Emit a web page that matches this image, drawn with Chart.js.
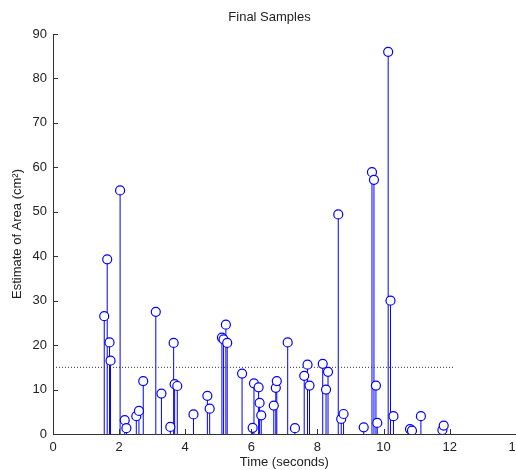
<!DOCTYPE html>
<html>
<head>
<meta charset="utf-8">
<script src="https://cdn.jsdelivr.net/npm/chart.js@4.4.0/dist/chart.umd.min.js"></script>
<style>
  html, body { margin: 0; padding: 0; background: #fff; overflow: hidden; }
</style>
</head>
<body>
<canvas id="stemChart" width="529" height="470"></canvas>
<script>
// sample times (s) and area estimates (cm^2)
const times = [1.55, 1.64, 1.71, 1.74, 2.03, 2.17, 2.22, 2.52, 2.60, 2.73,
               3.11, 3.28, 3.55, 3.65, 3.68, 3.76, 4.25, 4.67, 4.74, 5.11,
               5.16, 5.23, 5.27, 5.72, 6.04, 6.08, 6.22, 6.25, 6.30, 6.68,
               6.74, 6.77, 7.10, 7.32, 7.60, 7.70, 7.76, 8.16, 8.26, 8.32,
               8.63, 8.72, 8.79, 9.40, 9.65, 9.71, 9.77, 9.81, 10.14, 10.21,
               10.30, 10.80, 10.86, 11.13, 11.78, 11.82];
const areas = [26.5, 39.3, 20.6, 16.5, 54.8, 3.1, 1.3, 4.0, 5.2, 11.9,
               27.5, 9.1, 1.6, 20.5, 11.2, 10.8, 4.4, 8.6, 5.7, 21.7,
               21.3, 24.6, 20.5, 13.6, 1.4, 11.4, 10.5, 7.0, 4.2, 6.4,
               10.4, 11.9, 20.6, 1.3, 13.1, 15.6, 10.9, 15.8, 10.0, 14.0,
               49.4, 3.4, 4.5, 1.5, 58.9, 57.2, 10.9, 2.5, 86.0, 30.0,
               4.0, 1.1, 0.75, 4.0, 0.9, 1.9];
// dotted threshold line
const thresholdX = [0, 12.12];
const thresholdY = 15;

const xTicks = [0, 2, 4, 6, 8, 10, 12, 14];
const yTicks = [0, 10, 20, 30, 40, 50, 60, 70, 80, 90];

const points = times.map((t, i) => ({ x: t, y: areas[i] }));

// stems from each sample down to zero
const stemPlugin = {
  id: 'stems',
  beforeDatasetsDraw(chart) {
    const ctx = chart.ctx;
    const xs = chart.scales.x, ys = chart.scales.y;
    ctx.save();
    ctx.strokeStyle = '#0000ff';
    ctx.lineWidth = 1;
    points.forEach(p => {
      const px = xs.getPixelForValue(p.x);
      ctx.beginPath();
      ctx.moveTo(px, ys.getPixelForValue(0));
      ctx.lineTo(px, ys.getPixelForValue(p.y));
      ctx.stroke();
    });
    ctx.restore();
  }
};

// matlab style inward tick marks
const innerTicks = {
  id: 'innerTicks',
  afterDraw(chart) {
    const ctx = chart.ctx;
    const a = chart.chartArea;
    const xs = chart.scales.x, ys = chart.scales.y;
    ctx.save();
    ctx.strokeStyle = '#333';
    ctx.lineWidth = 1;
    xTicks.forEach(v => {
      const px = Math.round(xs.getPixelForValue(v)) + 0.5;
      ctx.beginPath();
      ctx.moveTo(px, a.bottom);
      ctx.lineTo(px, a.bottom - 5);
      ctx.stroke();
    });
    yTicks.forEach(v => {
      const py = Math.round(ys.getPixelForValue(v)) + 0.5;
      ctx.beginPath();
      ctx.moveTo(a.left, py);
      ctx.lineTo(a.left + 5, py);
      ctx.stroke();
    });
    ctx.restore();
  }
};

const font = { family: "'Liberation Sans', Arial, sans-serif", size: 13 };

new Chart(document.getElementById('stemChart'), {
  type: 'scatter',
  data: {
    datasets: [{
      data: points,
      pointStyle: 'circle',
      pointRadius: 4.5,
      pointBorderWidth: 1.2,
      pointBorderColor: '#0000ff',
      pointBackgroundColor: '#ffffff',
      showLine: false
    }, {
      type: 'line',
      data: thresholdX.map(x => ({ x: x, y: thresholdY })),
      borderColor: '#333',
      borderWidth: 1,
      borderDash: [1, 2],
      pointRadius: 0,
      fill: false
    }]
  },
  options: {
    responsive: false,
    animation: false,
    layout: { padding: { left: 10, top: 0, right: 0, bottom: 0 } },
    plugins: {
      legend: { display: false },
      tooltip: { enabled: false },
      title: {
        display: true,
        text: 'Final Samples',
        color: '#222',
        font: { family: font.family, size: 13, weight: 'normal' },
        padding: { top: 10, bottom: 8.4 }
      }
    },
    scales: {
      x: {
        type: 'linear',
        min: 0, max: 14,
        afterFit(s) { s.height = 36; },
        afterBuildTicks(s) { s.ticks = xTicks.map(v => ({ value: v })); },
        grid: { display: true, drawOnChartArea: false, drawTicks: false },
        border: { display: true, color: '#333', width: 1 },
        ticks: { color: '#222', font: font, padding: 6, maxRotation: 0 },
        title: { display: true, text: 'Time (seconds)', color: '#222', font: font, padding: 0 }
      },
      y: {
        type: 'linear',
        min: 0, max: 90,
        afterFit(s) { s.width = 43; },
        afterBuildTicks(s) { s.ticks = yTicks.map(v => ({ value: v })); },
        grid: { display: true, drawOnChartArea: false, drawTicks: false },
        border: { display: true, color: '#333', width: 1 },
        ticks: { color: '#222', font: font, padding: 6 },
        title: { display: true, text: 'Estimate of Area (cm²)', color: '#222', font: font, padding: 0 }
      }
    }
  },
  plugins: [stemPlugin, innerTicks]
});
</script>
</body>
</html>
